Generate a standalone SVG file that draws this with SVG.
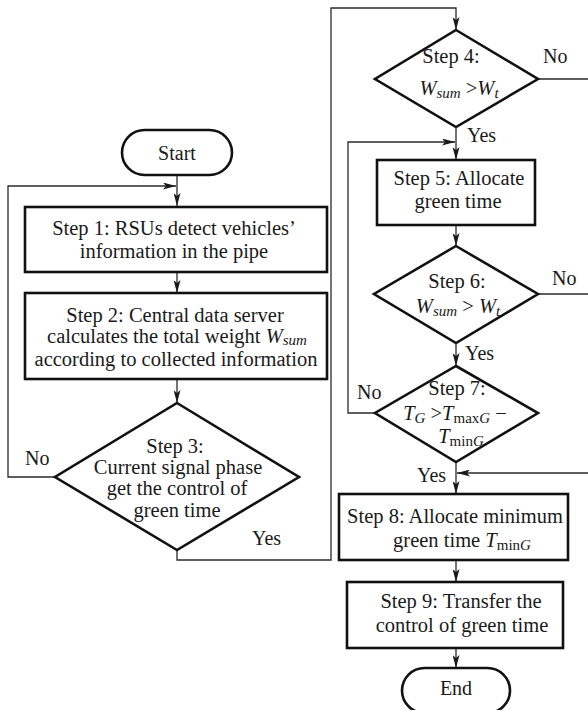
<svg xmlns="http://www.w3.org/2000/svg" width="588" height="710" viewBox="0 0 588 710">
<defs>
<marker id="arr" markerWidth="13" markerHeight="7" refX="13" refY="3.5" orient="auto" markerUnits="userSpaceOnUse">
<path d="M0,0 L13,3.5 L0,7 L3,3.5 Z" fill="#1a1a1a"/>
</marker>
</defs>
<style>
.shape{fill:#fff;stroke:#111;stroke-width:2.6}
.conn{fill:none;stroke:#2a2a2a;stroke-width:1.3}
text{font-family:'Liberation Serif','Times New Roman',serif;fill:#1a1a1a}
.t{font-size:20.5px;text-anchor:middle}
.lbl{font-size:20px}
.i{font-style:italic}
.s{font-size:15px}
</style>
<rect width="588" height="710" fill="#fff"/>

<g id="connectors">
<path class="conn" d="M177,175 V206" marker-end="url(#arr)"/>
<path class="conn" d="M177,272 V293" marker-end="url(#arr)"/>
<path class="conn" d="M177,379 V403" marker-end="url(#arr)"/>
<path class="conn" d="M55,477 H8 V186 H176" marker-end="url(#arr)"/>
<path class="conn" d="M177,550 V560 H331 V8 H456 V30" marker-end="url(#arr)"/>
<path class="conn" d="M538,79 H588"/>
<path class="conn" d="M456,127 V160" marker-end="url(#arr)"/>
<path class="conn" d="M456,225 V246" marker-end="url(#arr)"/>
<path class="conn" d="M538,294 H588"/>
<path class="conn" d="M456,343 V366" marker-end="url(#arr)"/>
<path class="conn" d="M375,413 H348 V142 H455" marker-end="url(#arr)"/>
<path class="conn" d="M456,462 V494" marker-end="url(#arr)"/>
<path class="conn" d="M588,473 H457" marker-end="url(#arr)"/>
<path class="conn" d="M456,560 V582" marker-end="url(#arr)"/>
<path class="conn" d="M456,648 V668" marker-end="url(#arr)"/>
<text class="lbl" x="25" y="465">No</text>
<text class="lbl" x="252" y="545">Yes</text>
<text class="lbl" x="543" y="63">No</text>
<text class="lbl" x="467" y="142">Yes</text>
<text class="lbl" x="552" y="285">No</text>
<text class="lbl" x="465" y="360">Yes</text>
<text class="lbl" x="357" y="399">No</text>
<text class="lbl" x="417" y="482">Yes</text>
</g>

<g id="start">
<rect class="shape" x="122" y="130" width="110" height="45" rx="22.5"/>
<text class="t" x="177" y="160" style="font-size:20px">Start</text>
</g>

<g id="step1">
<rect class="shape" x="25" y="207" width="302" height="65"/>
<text class="t" x="174" y="235">Step 1: RSUs detect vehicles’</text>
<text class="t" x="174" y="258">information in the pipe</text>
</g>

<g id="step2">
<rect class="shape" x="25" y="293" width="302" height="86"/>
<text class="t" x="175" y="322">Step 2: Central data server</text>
<text class="t" x="177" y="343">calculates the total weight <tspan class="i">W</tspan><tspan class="i s" dy="2">sum</tspan></text>
<text class="t" x="176" y="366">according to collected information</text>
</g>

<g id="step3">
<polygon class="shape" points="177,403 299,477 177,550 55,477"/>
<text class="t" x="175" y="453">Step 3:</text>
<text class="t" x="178" y="474">Current signal phase</text>
<text class="t" x="177" y="495">get the control of</text>
<text class="t" x="177" y="517">green time</text>
</g>

<g id="step4">
<polygon class="shape" points="456,30 538,79 456,127 375,79"/>
<text class="t" x="451" y="63">Step 4:</text>
<text class="t" x="459" y="95"><tspan class="i">W</tspan><tspan class="i s" dy="3">sum</tspan><tspan dy="-3"> &gt;</tspan><tspan class="i">W</tspan><tspan class="i s" dy="3">t</tspan></text>
</g>

<g id="step5">
<rect class="shape" x="377" y="160" width="158" height="65"/>
<text class="t" x="459" y="185">Step 5: Allocate</text>
<text class="t" x="458" y="208">green time</text>
</g>

<g id="step6">
<polygon class="shape" points="456,246 538,294 456,343 374,294"/>
<text class="t" x="457" y="288">Step 6:</text>
<text class="t" x="458" y="313"><tspan class="i">W</tspan><tspan class="i s" dy="3">sum</tspan><tspan dy="-3"> &gt; </tspan><tspan class="i">W</tspan><tspan class="i s" dy="3">t</tspan></text>
</g>

<g id="step7">
<polygon class="shape" points="456,366 538,413 456,462 375,413"/>
<text class="t" x="457" y="395">Step 7:</text>
<text class="t" x="455" y="420"><tspan class="i">T</tspan><tspan class="i s" dy="3">G</tspan><tspan dy="-3"> &gt;</tspan><tspan class="i">T</tspan><tspan class="s" dy="3">max</tspan><tspan class="i s">G</tspan><tspan dy="-3"> −</tspan></text>
<text class="t" x="461" y="443"><tspan class="i">T</tspan><tspan class="s" dy="3">min</tspan><tspan class="i s">G</tspan></text>
</g>

<g id="step8">
<rect class="shape" x="339" y="494" width="229" height="66"/>
<text class="t" x="455" y="523">Step 8: Allocate minimum</text>
<text class="t" x="462" y="547">green time <tspan class="i">T</tspan><tspan class="s" dy="3">min</tspan><tspan class="i s">G</tspan></text>
</g>

<g id="step9">
<rect class="shape" x="347" y="582" width="216" height="66"/>
<text class="t" x="461" y="608">Step 9: Transfer the</text>
<text class="t" x="462" y="632">control of green time</text>
</g>

<g id="end">
<rect class="shape" x="402" y="668" width="108" height="45" rx="22.5"/>
<text class="t" x="456" y="695" style="font-size:20px">End</text>
</g>
</svg>
